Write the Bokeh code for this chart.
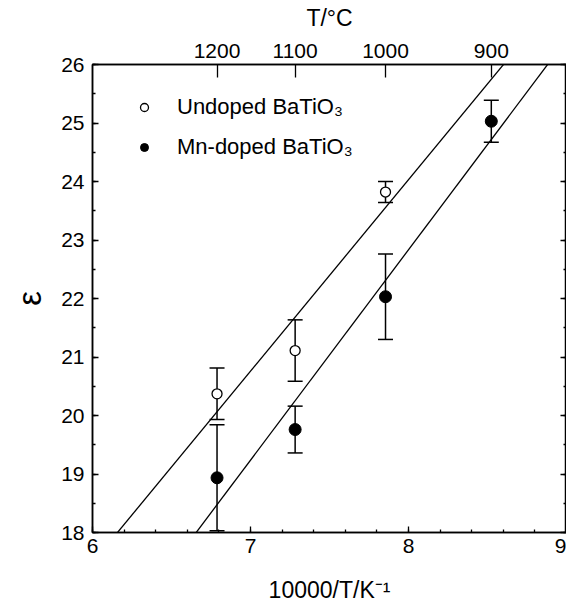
import numpy as np
from bokeh.plotting import figure
from bokeh.models import (ColumnDataSource, Whisker, TeeHead, LinearAxis, FixedTicker,
                          SingleIntervalTicker, Legend, LegendItem, CustomJSTickFormatter)
from bokeh.embed import file_html
from bokeh.resources import INLINE

FONT = "Liberation Sans"

# sintering temperatures (deg C) of the measured samples
temps_c = [1200, 1100, 1000, 900]

# permittivity of undoped BaTiO3 (first three temperatures) with error bars
eps_undoped = [20.37, 21.11, 23.82]
err_undoped = [0.44, 0.525, 0.18]

# permittivity of Mn-doped BaTiO3 (all four temperatures) with error bars
eps_mn = [18.935, 19.76, 22.03, 25.03]
err_mn = [0.905, 0.40, 0.73, 0.36]


def inv_t(tc):
    return [10000.0 / (t + 273.15) for t in tc]


x_all = inv_t(temps_c)
x_undoped = x_all[:len(eps_undoped)]
x_mn = x_all[:len(eps_mn)]

src_u = ColumnDataSource(dict(
    x=x_undoped, y=eps_undoped,
    lo=[v - e for v, e in zip(eps_undoped, err_undoped)],
    hi=[v + e for v, e in zip(eps_undoped, err_undoped)],
))
src_m = ColumnDataSource(dict(
    x=x_mn, y=eps_mn,
    lo=[v - e for v, e in zip(eps_mn, err_mn)],
    hi=[v + e for v, e in zip(eps_mn, err_mn)],
))

p = figure(width=566, height=609, x_range=(6, 9), y_range=(18, 26),
           output_backend="svg", toolbar_location=None,
           min_border_left=92, min_border_right=0,
           min_border_top=64, min_border_bottom=77)
p.xgrid.visible = False
p.ygrid.visible = False
p.outline_line_color = "black"
p.outline_line_width = 1.5
p.background_fill_color = "white"
p.border_fill_color = "white"

# least-squares straight lines through each data set
xs_line = np.array([6.0, 9.0])
for xs, ys in ((x_undoped, eps_undoped), (x_mn, eps_mn)):
    k, b = np.polyfit(xs, ys, 1)
    p.line(xs_line, k * xs_line + b, line_color="black", line_width=1.3)

# error bars
for src in (src_u, src_m):
    w = Whisker(source=src, base="x", lower="lo", upper="hi", dimension="height",
                line_color="black", line_width=1.5, level="underlay",
                upper_head=TeeHead(size=15, line_width=1.5, line_color="black"),
                lower_head=TeeHead(size=15, line_width=1.5, line_color="black"))
    p.add_layout(w)

r_u = p.scatter("x", "y", source=src_u, size=10, marker="circle",
                fill_color="white", line_color="black", line_width=1.3)
r_m = p.scatter("x", "y", source=src_m, size=12, marker="circle",
                fill_color="black", line_color="black", line_width=1)

legend = Legend(items=[LegendItem(label="Undoped BaTiO₃", renderers=[r_u]),
                       LegendItem(label="Mn-doped BaTiO₃", renderers=[r_m])],
                location=(42, 372), padding=0, margin=0, spacing=14,
                glyph_width=20, glyph_height=26, label_height=26,
                label_standoff=23, label_text_font=FONT,
                label_text_color="black",
                label_text_font_size="22px", border_line_alpha=0,
                background_fill_alpha=0)
p.add_layout(legend)


def style_axis(ax, label_size="21px"):
    ax.axis_line_color = "black"
    ax.axis_line_width = 1.5
    ax.major_tick_line_color = "black"
    ax.minor_tick_line_color = "black"
    ax.major_tick_line_width = 1.3
    ax.minor_tick_line_width = 1.3
    ax.major_tick_out = 0
    ax.minor_tick_out = 0
    ax.major_tick_in = 6
    ax.minor_tick_in = 3
    ax.major_label_text_font = FONT
    ax.major_label_text_font_size = label_size
    ax.major_label_text_color = "black"
    ax.axis_label_text_font = FONT
    ax.axis_label_text_font_style = "normal"
    ax.axis_label_text_color = "black"


# bottom axis: inverse temperature
xa = p.xaxis[0]
xa.ticker = SingleIntervalTicker(interval=1, num_minor_ticks=5)
style_axis(xa)
xa.major_label_standoff = 6
xa.axis_label = "10000/T/K⁻¹"
xa.axis_label_text_font_size = "23px"
xa.axis_label_standoff = 21

# left axis: permittivity
ya = p.yaxis[0]
ya.ticker = SingleIntervalTicker(interval=1, num_minor_ticks=2)
style_axis(ya)
ya.major_label_standoff = 8
ya.axis_label = "ε"
ya.axis_label_text_font_size = "33px"
ya.axis_label_standoff = 10

# right axis: mirrored ticks only, no labels
ra = LinearAxis(ticker=SingleIntervalTicker(interval=1, num_minor_ticks=2),
                formatter=CustomJSTickFormatter(code="return '';"))
style_axis(ra)
ra.major_label_standoff = 0
p.add_layout(ra, "right")

# top axis: sintering temperature in deg C
ta = LinearAxis(ticker=FixedTicker(ticks=x_all, minor_ticks=[]),
                formatter=CustomJSTickFormatter(
                    code="return String(Math.round(10000 / tick - 273.15));"))
style_axis(ta)
ta.major_tick_in = 13
ta.major_label_standoff = 7
ta.axis_label = "T/°C"
ta.axis_label_text_font_size = "23px"
ta.axis_label_standoff = 10
p.add_layout(ta, "above")

open("out.html", "w").write(file_html(p, INLINE))
